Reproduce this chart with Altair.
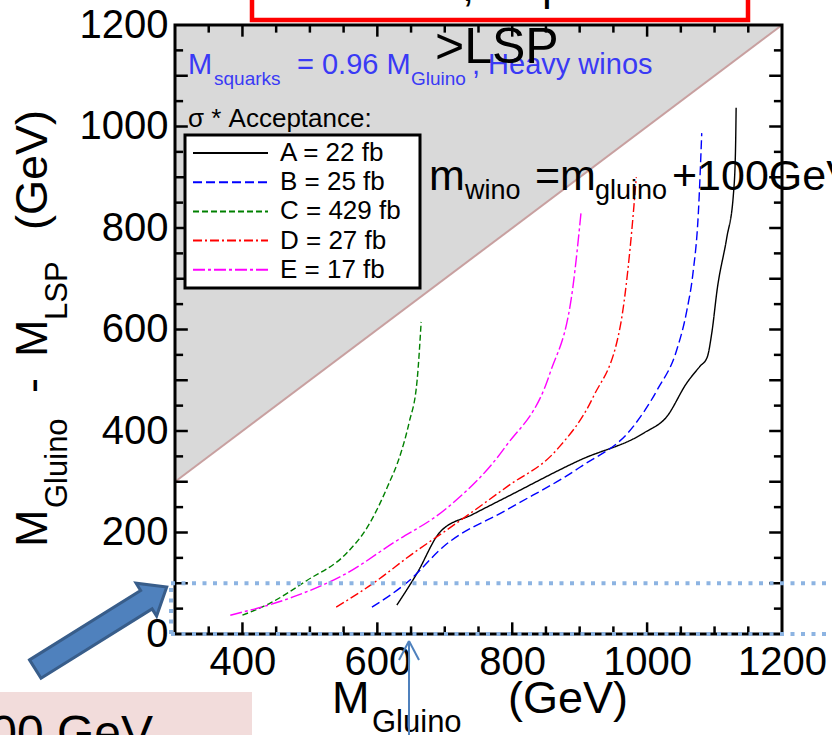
import altair as alt
import pandas as pd

F = "Liberation Sans"

# ---------------- data ----------------
series = ["A = 22 fb", "B = 25 fb", "C = 429 fb", "D = 27 fb", "E = 17 fb"]
colors = ["#000000", "#0000ff", "#008000", "#ff0000", "#ff00ff"]
dashes = [[1, 0], [9, 4], [6, 3], [9, 3, 2, 3], [12, 3, 3, 3]]

a_x = [629, 659, 693, 742, 792, 901, 995, 1029, 1059, 1078, 1089, 1096, 1104, 1118, 1128, 1131, 1132]
a_y = [57, 120, 201, 236, 270, 343, 396, 428, 495, 527, 545, 594, 680, 780, 867, 950, 1037]
b_x = [592, 648, 697, 795, 901, 979, 1015, 1044, 1059, 1068, 1076, 1081]
b_y = [53, 106, 171, 247, 329, 408, 481, 560, 638, 711, 830, 987]
c_x = [400, 440, 495, 555, 585, 615, 635, 647, 659, 665]
c_y = [37, 60, 105, 160, 210, 290, 357, 416, 500, 615]
d_x = [539, 594, 653, 703, 792, 866, 920, 960, 975, 984]
d_y = [53, 100, 159, 205, 290, 363, 467, 605, 763, 900]
e_x = [382, 475, 555, 623, 703, 790, 856, 890, 902]
e_y = [37, 73, 120, 179, 248, 369, 514, 684, 830]

curve_x = [a_x, b_x, c_x, d_x, e_x]
curve_y = [a_y, b_y, c_y, d_y, e_y]

diag_x = [300, 1200]          # kinematic limit M_LSP = 0  (y = x)
x_labels = [400, 600, 800, 1000, 1200]
y_labels = [0, 200, 400, 600, 800, 1000, 1200]
x_ticks = list(range(350, 1200, 50))
y_ticks = list(range(50, 1200, 50))
cut_value = [100]             # dotted line at dM = 100 GeV

# ---------------- layout ----------------
W, H = 607, 609
L, TP = 175, 25

rows = []
for s, xs, ys in zip(series, curve_x, curve_y):
    for i, (xv, yv) in enumerate(zip(xs, ys)):
        rows.append({"series": s, "i": i, "x": xv, "y": yv})
curves = pd.DataFrame(rows)

XS = alt.Scale(domain=[300, 1200], nice=False, zero=False)
YS = alt.Scale(domain=[0, 1200], nice=False, zero=False)
AX = alt.Axis(values=x_labels, format="d", labelFontSize=40, labelFont=F, labelColor="black",
              ticks=False, domain=False, grid=False, title=None, labelPadding=8,
              labelFlush=False, labelOverlap=False)
AY = alt.Axis(values=y_labels, format="d", labelFontSize=40, labelFont=F, labelColor="black",
              ticks=False, domain=False, grid=False, title=None, labelPadding=7,
              labelFlush=False, labelOverlap=False, labelBaseline="middle")

COL = alt.Color("series:N", scale=alt.Scale(domain=series, range=colors), legend=None)
DSH = alt.StrokeDash("series:N", scale=alt.Scale(domain=series, range=dashes), legend=None)

ONE = alt.Data(values=[{"a": 1}])


def X(f):
    return alt.X(f, scale=XS, axis=AX)


def Y(f):
    return alt.Y(f, scale=YS, axis=AY)


def T(s, px, py, size, color="black", angle=None, align="left", baseline="alphabetic"):
    kw = dict(text=s, fontSize=size, font=F, color=color, align=align, baseline=baseline)
    if angle is not None:
        kw["angle"] = angle
    return alt.Chart(ONE).mark_text(**kw).encode(x=alt.value(px - L), y=alt.value(py - TP))


def R(x1, y1, x2, y2, color, width, dash=None):
    kw = dict(color=color, strokeWidth=width)
    if dash:
        kw["strokeDash"] = dash
    return alt.Chart(ONE).mark_rule(**kw).encode(
        x=alt.value(x1 - L), y=alt.value(y1 - TP), x2=alt.value(x2 - L), y2=alt.value(y2 - TP))


diag = pd.DataFrame({"x": diag_x, "y": diag_x})

grey = alt.Chart(diag).transform_calculate(top="1200").mark_area(color="#d9d9d9").encode(
    x=X("x:Q"), y=Y("y:Q"), y2="top:Q")
diag_line = alt.Chart(diag).mark_line(color="#c8a0a0", strokeWidth=2).encode(x=X("x:Q"), y=Y("y:Q"))

lines = alt.Chart(curves).mark_line(strokeWidth=1.4, interpolate="monotone").encode(
    x=X("x:Q"), y=Y("y:Q"), color=COL, strokeDash=DSH, order="i:Q")

xt = pd.DataFrame({"v": x_ticks})
yt = pd.DataFrame({"v": y_ticks})
tick_kw = dict(color="black", strokeWidth=2.5)
xt_bottom = alt.Chart(xt).transform_calculate(
    a="0", b="datum.v % 200 == 0 ? 23 : 15").mark_rule(**tick_kw).encode(x=X("v:Q"), y=Y("a:Q"), y2="b:Q")
xt_top = alt.Chart(xt).transform_calculate(
    a="1200", b="datum.v % 200 == 0 ? 1177 : 1185").mark_rule(**tick_kw).encode(x=X("v:Q"), y=Y("a:Q"), y2="b:Q")
yt_left = alt.Chart(yt).transform_calculate(
    a="300", b="datum.v % 100 == 0 ? 319 : 312").mark_rule(**tick_kw).encode(y=Y("v:Q"), x=X("a:Q"), x2="b:Q")
yt_right = alt.Chart(yt).transform_calculate(
    a="1200", b="datum.v % 100 == 0 ? 1181 : 1188").mark_rule(**tick_kw).encode(y=Y("v:Q"), x=X("a:Q"), x2="b:Q")

frame = alt.Chart(ONE).mark_rect(fillOpacity=0, stroke="black", strokeWidth=3).encode(
    x=alt.value(0), x2=alt.value(W), y=alt.value(0), y2=alt.value(H))

# legend (drawn by hand so that the box matches the figure)
leg_df = pd.DataFrame({"series": series, "idx": list(range(len(series)))})
leg_box = alt.Chart(ONE).mark_rect(fill="white", stroke="black", strokeWidth=3).encode(
    x=alt.value(185 - L), x2=alt.value(420 - L), y=alt.value(135 - TP), y2=alt.value(288 - TP))
leg_calc = "1200 - (128 + 29.2 * datum.idx) * 1200 / 609"
leg_lines = alt.Chart(leg_df).transform_calculate(ly=leg_calc).mark_rule(strokeWidth=2).encode(
    x=alt.value(193 - L), x2=alt.value(268 - L), y=Y("ly:Q"), color=COL, strokeDash=DSH)
leg_text = alt.Chart(leg_df).transform_calculate(ly=leg_calc).mark_text(
    align="left", baseline="middle", fontSize=26, font=F, color="black").encode(
    x=alt.value(280 - L), y=Y("ly:Q"), text="series:N")

# dotted blue box marking dM < 100 GeV
cut = pd.DataFrame({"c": cut_value})
dot = dict(color="#8db4e2", strokeWidth=4, strokeDash=[4, 6.5])
cut_top = alt.Chart(cut).mark_rule(**dot).encode(x=alt.value(171 - L), x2=alt.value(900 - L), y=Y("c:Q"))
cut_bot = alt.Chart(cut).transform_calculate(z="0").mark_rule(**dot).encode(
    x=alt.value(171 - L), x2=alt.value(900 - L), y=Y("z:Q"))
cut_left = alt.Chart(cut).transform_calculate(z="0").mark_rule(**dot).encode(
    x=alt.value(171 - L), y=Y("z:Q"), y2="c:Q")

BLUE = "#3a3af5"
texts = [
    T("M", 188, 74, 29, BLUE), T("squarks", 214, 85, 19, BLUE),
    T("= 0.96 M", 297, 74, 29, BLUE), T("Gluino", 411, 85, 19, BLUE),
    T(", Heavy winos", 472, 74, 29, BLUE),
    T("\u03c3 * Acceptance:", 188, 127, 26),
    T(">LSP", 435, 63, 50),
    T("m", 429, 190, 43), T("wino", 465, 199, 27), T("=m", 535, 190, 43),
    T("gluino", 595, 199, 27), T("+100GeV", 672, 190, 43),
    # y title
    T("M", 47, 547, 45, angle=270), T("Gluino", 67, 508, 31, angle=270),
    T("-", 47, 393, 45, angle=270), T("M", 47, 357, 45, angle=270),
    T("LSP", 67, 320, 31, angle=270), T("(GeV)", 47, 230, 45, angle=270),
    # x title
    T("M", 332, 713, 45), T("Gluino", 372, 732, 31), T("(GeV)", 508, 713, 45),
]

# slide overlays
pink = alt.Chart(ONE).mark_rect(fill="#f2dcdb").encode(
    x=alt.value(0 - L), x2=alt.value(252 - L), y=alt.value(692 - TP), y2=alt.value(780 - TP))
pink_text = T("00 GeV", 153, 749, 48, align="right")
red_box = alt.Chart(ONE).mark_rect(fillOpacity=0, stroke="#ff0000", strokeWidth=4.5).encode(
    x=alt.value(252 - L), x2=alt.value(748 - L), y=alt.value(-20 - TP), y2=alt.value(20 - TP))
red_frag = [T(",", 462, 1, 44), T("p", 542, 0, 44)]

arrow_path = "M -1 -0.14 L 0.69 -0.14 L 0.69 -0.25 L 1 0 L 0.69 0.25 L 0.69 0.14 L -1 0.14 Z"
big_arrow = alt.Chart(ONE).mark_point(
    shape=arrow_path, filled=True, fill="#4f81bd", stroke="#385d8a", strokeWidth=3,
    size=24025, angle=328, opacity=1).encode(x=alt.value(101 - L), y=alt.value(628 - TP))

AB = "#4f81bd"
thin_arrow = [R(409, 641, 409, 760, AB, 2), R(399, 660, 409, 641, AB, 2), R(419, 660, 409, 641, AB, 2)]

chart = alt.layer(
    grey, diag_line, lines, xt_bottom, xt_top, yt_left, yt_right, frame,
    leg_box, leg_lines, leg_text, *texts, pink, pink_text, red_box, *red_frag,
    cut_top, cut_bot, cut_left, big_arrow, *thin_arrow,
).properties(
    width=W, height=H, autosize=alt.AutoSizeParams(type="none"),
    padding={"left": L, "top": TP, "right": 832 - L - W, "bottom": 735 - TP - H},
    background="white",
).configure_view(stroke=None).configure(font=F)

chart.save("out.html", embed_options={"renderer": "svg", "actions": False})
